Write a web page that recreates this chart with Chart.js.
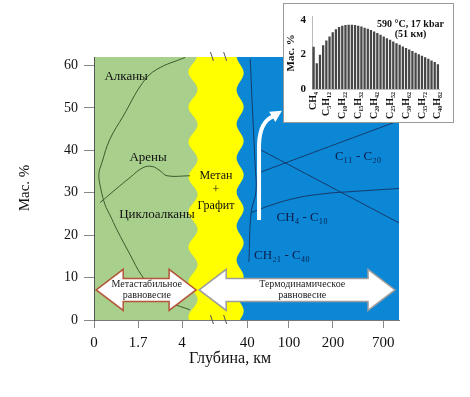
<!DOCTYPE html>
<html>
<head>
<meta charset="utf-8">
<script src="https://cdn.jsdelivr.net/npm/chart.js@4.4.1/dist/chart.umd.min.js"></script>
<style>
  body { margin: 0; background: #fff; }
  #wrap { position: relative; width: 470px; height: 397px; }
  #inset { position: absolute; left: 283px; top: 3px; width: 169px; height: 118px; border: 1px solid #9a9a9a; background: #fff; }
  canvas { display: block; }
</style>
</head>
<body>
<div id="wrap">
  <canvas id="mainChart" width="470" height="397"></canvas>
  <div id="inset"><canvas id="insetChart" width="169" height="118"></canvas></div>
</div>
<script>
// depth axis is not linear, so ticks sit at fixed axis positions
const depthLabels = ['0', '1.7', '4', '40', '100', '200', '700'];
const depthPos = [0, 1, 2, 3.48, 4.43, 5.43, 6.57];
const depthMax = 6.93;
const zoneBounds = [2.25, 3.32]; // green | yellow | blue

// curves, points are [axis position, mass %]
const alkanes = [[2.07, 61.9], [1.43, 59.1], [1.11, 56.0], [0.66, 48.0], [0.36, 42.6], [0.18, 37.1], [0.11, 34.3],
  [0.16, 30.7], [0.25, 27.2], [0.36, 24.8], [0.52, 21.3], [0.82, 15.4], [1.09, 10.4], [1.45, 6.1], [1.77, 4.0], [2.18, 2.4]];
const arenes = [[0.14, 27.7], [0.48, 30.7], [0.82, 33.6], [1.11, 35.9], [1.32, 36.2], [1.5, 35.2], [1.66, 34.0], [2.18, 34.0]];
const heavyFraction = [[3.55, 61.5], [3.59, 52.0], [3.66, 36.6], [3.68, 30.3], [3.57, 25.3], [3.52, 13.7]];
const lightFraction = [[3.57, 25.3], [4.0, 27.0], [4.61, 28.8], [5.25, 29.8], [5.89, 30.3], [6.93, 31.0]];
const middleFraction = [[3.77, 34.8], [6.93, 47.0]];
const fallingLine = [[3.77, 40.2], [6.93, 22.9]];

// inset: composition at 590 °C, 17 kbar
const carbonNumbers = [1, 2, 3, 4, 5, 6, 7, 8, 9, 10, 11, 12, 13, 14, 15, 16, 17, 18, 19, 20,
  21, 22, 23, 24, 25, 26, 27, 28, 29, 30, 31, 32, 33, 34, 35, 36, 37, 38, 39, 40];
const massPercent = [2.45, 1.5, 1.99, 2.54, 2.81, 3.05, 3.29, 3.47, 3.6, 3.67, 3.71, 3.73, 3.73, 3.71, 3.67, 3.63, 3.56, 3.5, 3.42, 3.34,
  3.25, 3.15, 3.05, 2.95, 2.85, 2.75, 2.66, 2.57, 2.47, 2.38, 2.29, 2.2, 2.11, 2.02, 1.93, 1.84, 1.75, 1.66, 1.56, 1.43];
const labelCarbons = [1, 5, 10, 15, 20, 25, 30, 35, 40];
const labelFormulas = ['CH₄', 'C₅H₁₂', 'C₁₀H₂₂', 'C₁₅H₃₂', 'C₂₀H₄₂', 'C₂₅H₅₂', 'C₃₀H₆₂', 'C₃₅H₇₂', 'C₄₀H₈₂'];

const serif = "'Liberation Serif', 'DejaVu Serif', serif";
Chart.defaults.font.family = serif;
Chart.defaults.color = '#111';

const green = '#a8cf8b';
const yellow = '#ffff00';
const blue = '#0b87d5';

function line(points, color) {
  return {
    data: points.map(p => ({ x: p[0], y: p[1] })),
    showLine: true, pointRadius: 0, borderColor: color, borderWidth: 1, tension: 0.4
  };
}

// background zones with wavy borders of the yellow band
const zonesPlugin = {
  id: 'zones',
  beforeDraw(chart) {
    const { ctx, chartArea: a, scales: { x } } = chart;
    const xl = x.getPixelForValue(zoneBounds[0]);
    const xr = x.getPixelForValue(zoneBounds[1]);
    const leftEdge = y => xl - 4.5 * Math.cos(2 * Math.PI * (y - a.top - 15) / 35);
    const rightEdge = y => xr + 3.5 * Math.cos(2 * Math.PI * (y - a.top - 16) / 34);
    ctx.save();
    ctx.fillStyle = blue;
    ctx.fillRect(a.left, a.top, a.width, a.height);
    function fillTo(edge, color) {
      ctx.beginPath();
      ctx.moveTo(a.left, a.top);
      for (let y = a.top; y <= a.bottom; y++) ctx.lineTo(edge(y), y);
      ctx.lineTo(a.left, a.bottom);
      ctx.closePath();
      ctx.fillStyle = color;
      ctx.fill();
    }
    fillTo(rightEdge, yellow);
    fillTo(leftEdge, green);
    ctx.restore();
  }
};

function doubleArrow(ctx, x0, x1, yc, fill, stroke) {
  const head = 27, hh = 20.5, sh = 11.5;
  ctx.beginPath();
  ctx.moveTo(x0, yc);
  ctx.lineTo(x0 + head, yc - hh);
  ctx.lineTo(x0 + head, yc - sh);
  ctx.lineTo(x1 - head, yc - sh);
  ctx.lineTo(x1 - head, yc - hh);
  ctx.lineTo(x1, yc);
  ctx.lineTo(x1 - head, yc + hh);
  ctx.lineTo(x1 - head, yc + sh);
  ctx.lineTo(x0 + head, yc + sh);
  ctx.lineTo(x0 + head, yc + hh);
  ctx.closePath();
  ctx.fillStyle = fill;
  ctx.fill();
  ctx.lineWidth = 1.5;
  ctx.strokeStyle = stroke;
  ctx.stroke();
}

const notesPlugin = {
  id: 'notes',
  afterDatasetsDraw(chart) {
    const { ctx, chartArea: a, scales: { x, y } } = chart;
    const px = v => x.getPixelForValue(v);
    const py = v => y.getPixelForValue(v);
    ctx.save();

    // axis break marks
    ctx.strokeStyle = '#555';
    ctx.lineWidth = 1;
    [2.68, 2.98].forEach(v => {
      [a.top, a.bottom].forEach(edge => {
        ctx.beginPath();
        ctx.moveTo(px(v) - 1.5, edge - 5);
        ctx.lineTo(px(v) + 1.5, edge + 4);
        ctx.stroke();
      });
    });

    // white arrow pointing at the inset
    ctx.strokeStyle = '#fff';
    ctx.lineWidth = 4;
    ctx.beginPath();
    ctx.moveTo(px(3.75), py(23.6));
    ctx.lineTo(px(3.75), py(41.4));
    ctx.quadraticCurveTo(px(3.77), py(46.8), px(4.07), py(48.0));
    ctx.stroke();
    const bx = px(4.05), by = py(47.9), tx = px(4.27), ty = py(49.3);
    const dx = tx - bx, dy = ty - by, len = Math.hypot(dx, dy);
    const nx = -dy / len * 6, ny = dx / len * 6;
    ctx.fillStyle = '#fff';
    ctx.beginPath();
    ctx.moveTo(tx, ty);
    ctx.lineTo(bx + nx, by + ny);
    ctx.lineTo(bx - nx, by - ny);
    ctx.closePath();
    ctx.fill();

    // equilibrium arrows
    doubleArrow(ctx, px(0.05), px(2.32), py(7.1), '#fff', '#b4563a');
    doubleArrow(ctx, px(2.39), px(6.84), py(7.1), '#fff', '#9c9c9c');

    ctx.textAlign = 'center';
    ctx.textBaseline = 'middle';
    ctx.fillStyle = '#222';
    ctx.font = '10px ' + serif;
    ctx.fillText('Метастабильное', px(1.2), py(8.3));
    ctx.fillText('равновесие', px(1.2), py(5.7));
    ctx.fillText('Термодинамическое', px(4.73), py(8.3));
    ctx.fillText('равновесие', px(4.73), py(5.7));

    // zone labels
    ctx.font = '13px ' + serif;
    ctx.fillStyle = '#111';
    ctx.fillText('Алканы', px(0.73), py(57.4));
    ctx.fillText('Арены', px(1.23), py(38.3));
    ctx.fillText('Циклоалканы', px(1.43), py(24.8));
    ctx.font = '12px ' + serif;
    ctx.fillText('Метан', px(2.77), py(34.0));
    ctx.fillText('+', px(2.77), py(30.6));
    ctx.fillText('Графит', px(2.77), py(27.0));
    ctx.fillStyle = '#0b1d4a';
    ctx.font = '13px ' + serif;
    ctx.fillText('C₁₁ - C₂₀', px(6.0), py(38.5));
    ctx.fillText('CH₄ - C₁₀', px(4.73), py(24.1));
    ctx.fillText('CH₂₁ - C₄₀', px(4.27), py(15.1));

    ctx.restore();
  },
  afterDraw(chart) {
    const { ctx } = chart;
    ctx.save();
    ctx.fillStyle = '#111';
    ctx.textAlign = 'center';
    ctx.textBaseline = 'middle';
    ctx.font = '16px ' + serif;
    ctx.fillText('Глубина, км', 230, 359);
    ctx.translate(25, 188);
    ctx.rotate(-Math.PI / 2);
    ctx.font = '15px ' + serif;
    ctx.fillText('Мас. %', 0, 0);
    ctx.restore();
  }
};

new Chart(document.getElementById('mainChart'), {
  type: 'scatter',
  data: {
    datasets: [
      line(alkanes, '#3d5a2c'),
      line(arenes, '#3d5a2c'),
      line(heavyFraction, '#163a6b'),
      line(lightFraction, '#163a6b'),
      line(middleFraction, '#163a6b'),
      line(fallingLine, '#163a6b')
    ]
  },
  options: {
    responsive: false,
    animation: false,
    layout: { padding: { top: 57, right: 71, left: 0, bottom: 0 } },
    plugins: { legend: { display: false }, tooltip: { enabled: false } },
    scales: {
      x: {
        type: 'linear', min: 0, max: depthMax,
        afterBuildTicks: s => { s.ticks = depthPos.map(v => ({ value: v })); },
        afterFit: s => { s.height = 77; },
        ticks: { callback: (v, i) => depthLabels[i], font: { size: 15 }, padding: 6, maxRotation: 0, autoSkip: false },
        grid: { drawOnChartArea: false, tickLength: 8, color: '#888' },
        border: { color: '#777' }
      },
      y: {
        min: 0, max: 62,
        afterFit: s => { s.width = 94; },
        ticks: { stepSize: 10, includeBounds: false, font: { size: 14 }, padding: 6 },
        grid: { drawOnChartArea: false, tickLength: 10, color: '#888' },
        border: { color: '#555' }
      }
    }
  },
  plugins: [zonesPlugin, notesPlugin]
});

// inset title text
const insetNote = {
  id: 'insetNote',
  afterDraw(chart) {
    const { ctx, chartArea: a } = chart;
    ctx.save();
    ctx.fillStyle = '#111';
    ctx.textAlign = 'center';
    ctx.textBaseline = 'middle';
    ctx.font = 'bold 10px ' + serif;
    ctx.fillText('590 °C, 17 kbar', a.right - 29, a.top + 8);
    ctx.fillText('(51 км)', a.right - 29, a.top + 18);
    ctx.restore();
  }
};

new Chart(document.getElementById('insetChart'), {
  type: 'bar',
  data: {
    labels: carbonNumbers,
    datasets: [{ data: massPercent, backgroundColor: '#474747', barPercentage: 0.72, categoryPercentage: 1 }]
  },
  options: {
    responsive: false,
    animation: false,
    layout: { padding: { top: 8, right: 8, left: 0, bottom: 0 } },
    plugins: { legend: { display: false }, tooltip: { enabled: false } },
    scales: {
      x: {
        afterFit: s => { s.height = 33; },
        grid: { display: false, drawTicks: false },
        border: { color: '#bbb' },
        ticks: {
          autoSkip: false, maxRotation: 90, minRotation: 90, padding: 3,
          font: { size: 10, weight: 'bold' },
          callback: (v, i) => {
            const k = labelCarbons.indexOf(carbonNumbers[i]);
            return k < 0 ? '' : labelFormulas[k];
          }
        }
      },
      y: {
        min: 0, max: 4.2,
        afterFit: s => { s.width = 28; },
        grid: { display: false, drawTicks: false },
        border: { color: '#bbb' },
        ticks: { stepSize: 2, includeBounds: false, padding: 6, font: { size: 11, weight: 'bold' } },
        title: { display: true, text: 'Мас. %', font: { size: 11, weight: 'bold' }, padding: { top: 1, bottom: 0 } }
      }
    }
  },
  plugins: [insetNote]
});
</script>
</body>
</html>
